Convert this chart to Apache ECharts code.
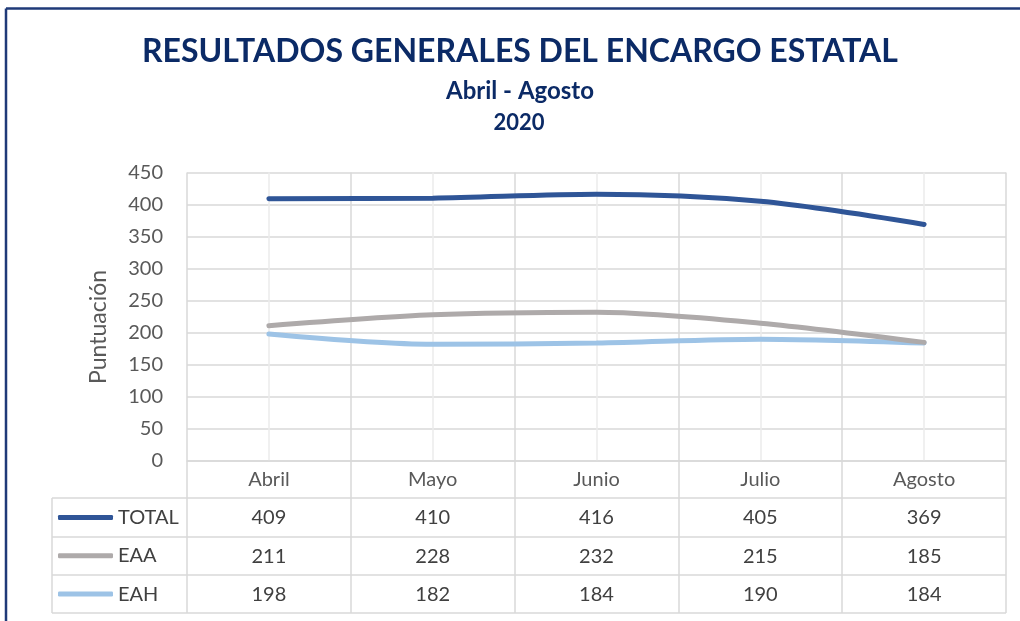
<!DOCTYPE html>
<html><head><meta charset="utf-8">
<script src="https://cdn.jsdelivr.net/npm/echarts@6/dist/echarts.min.js"></script>
<style>html,body{margin:0;padding:0;background:#fff}#c{width:1020px;height:621px}</style>
</head><body><div id="c"></div>
<script>
const categories = ['Abril', 'Mayo', 'Junio', 'Julio', 'Agosto'];
const seriesNames = ['TOTAL', 'EAA', 'EAH'];
const totalValues = [409, 410, 416, 405, 369];
const eaaValues = [211, 228, 232, 215, 185];
const eahValues = [198, 182, 184, 190, 184];
const yTicks = [0, 50, 100, 150, 200, 250, 300, 350, 400, 450];

const FONT = 'Lato';
const colors = ['#2F5597', '#AEAAAA', '#9DC3E6'];
const rows = [totalValues, eaaValues, eahValues];
const GRID = '#d9d9d9';

const chart = echarts.init(document.getElementById('c'));

const gridLeft = 187, gridRight = 1006, gridTop = 172.5, gridBottomY = 461;
const rowLines = [498, 537, 575, 613];

const tableAxes = rows.map((vals, i) => ({
  type: 'category', gridIndex: 0, position: 'bottom', offset: 38.3 * (i + 1),
  data: vals.map(String), boundaryGap: true,
  axisLine: {show: false}, axisTick: {show: false}, splitLine: {show: false},
  axisLabel: {fontFamily: FONT, fontSize: 20, color: '#404040', margin: 8.5}
}));

const graphics = [
  {type: 'line', shape: {x1: 6, y1: 621, x2: 6, y2: 8.5}, style: {stroke: '#1F3A78', lineWidth: 2.5}},
  {type: 'line', shape: {x1: 6, y1: 8.5, x2: 1020, y2: 8.5}, style: {stroke: '#1F3A78', lineWidth: 2.5}},
  {type: 'text', x: 520, y: 52, style: {text: 'RESULTADOS GENERALES DEL ENCARGO ESTATAL', font: 'bold 32px ' + FONT, fill: '#0B2A66', textAlign: 'center', textVerticalAlign: 'middle'}},
  {type: 'text', x: 520, y: 91.5, style: {text: 'Abril - Agosto', font: 'bold 24px ' + FONT, fill: '#0B2A66', textAlign: 'center', textVerticalAlign: 'middle'}},
  {type: 'text', x: 519, y: 122.5, style: {text: '2020', font: 'bold 22px ' + FONT, fill: '#0B2A66', textAlign: 'center', textVerticalAlign: 'middle'}},
  {type: 'text', x: 99, y: 327, rotation: Math.PI / 2, style: {text: 'Puntuación', font: '23px ' + FONT, fill: '#595959', textAlign: 'center', textVerticalAlign: 'middle'}},
  {type: 'line', shape: {x1: 52, y1: rowLines[0], x2: 52, y2: rowLines[3]}, style: {stroke: GRID, lineWidth: 1.5}}
].concat(rowLines.map(y => ({type: 'line', shape: {x1: 52, y1: y, x2: gridRight, y2: y}, style: {stroke: GRID, lineWidth: 1.5}})));

chart.setOption({
  animation: false,
  grid: {left: gridLeft, right: 1020 - gridRight, top: gridTop, bottom: 621 - gridBottomY, containLabel: false},
  legend: {
    orient: 'vertical', left: 53, top: 502.5, padding: 5, itemWidth: 55, itemHeight: 5, itemGap: 18.3,
    icon: 'roundRect', data: seriesNames,
    textStyle: {fontFamily: FONT, fontSize: 20, color: '#404040', lineHeight: 20}
  },
  xAxis: [
    {
      type: 'category', data: categories, boundaryGap: true, position: 'bottom',
      axisLine: {show: true, lineStyle: {color: GRID, width: 1.5}},
      axisTick: {show: true, alignWithLabel: false, length: 152, lineStyle: {color: GRID, width: 1.5}},
      splitLine: {show: false},
      axisLabel: {fontFamily: FONT, fontSize: 20, color: '#595959', margin: 9}
    },
    {
      type: 'value', min: 0, max: 5, interval: 1, position: 'top',
      axisLine: {show: false}, axisTick: {show: false}, axisLabel: {show: false},
      splitLine: {show: true, lineStyle: {color: GRID, width: 1.5}},
      minorTick: {show: false, splitNumber: 2},
      minorSplitLine: {show: true, lineStyle: {color: '#ebebeb', width: 1.5}}
    }
  ].concat(tableAxes),
  yAxis: {
    type: 'value', min: yTicks[0], max: yTicks[yTicks.length - 1], interval: 50,
    axisLine: {show: false}, axisTick: {show: false},
    axisLabel: {fontFamily: FONT, fontSize: 20, color: '#595959', margin: 24},
    splitLine: {lineStyle: {color: GRID, width: 1.5}}
  },
  series: rows.map((vals, i) => ({
    name: seriesNames[i], type: 'line', data: vals, xAxisIndex: 0, smooth: 0.3,
    symbol: 'none', lineStyle: {color: colors[i], width: 5, cap: 'round'},
    itemStyle: {color: colors[i]}, z: 10 - i
  })),
  graphic: graphics
});
</script></body></html>
